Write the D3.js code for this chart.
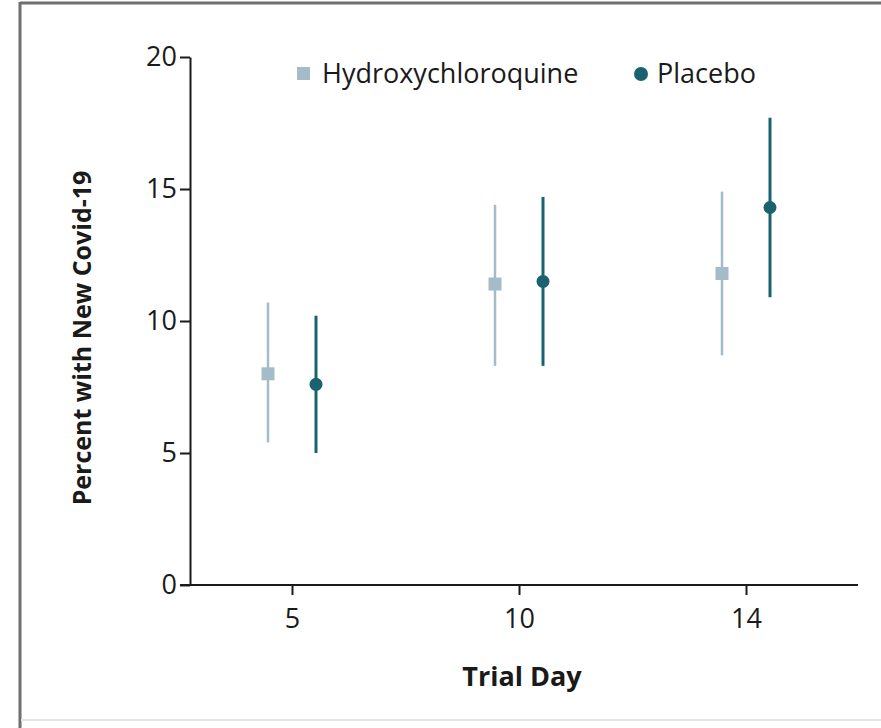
<!DOCTYPE html>
<html>
<head>
<meta charset="utf-8">
<script src="https://cdn.jsdelivr.net/npm/d3@7"></script>
<style>
  html, body { margin: 0; padding: 0; background: #fff; }
  svg { display: block; }
</style>
</head>
<body>
<script>
// Trial days shown on the x axis
const days = ["5", "10", "14"];
// Hydroxychloroquine: percent with new Covid-19 and 95% CI
const hcqEstimate = [8.0, 11.4, 11.8];
const hcqLower = [5.4, 8.3, 8.7];
const hcqUpper = [10.7, 14.4, 14.9];
// Placebo: percent with new Covid-19 and 95% CI
const placeboEstimate = [7.6, 11.5, 14.3];
const placeboLower = [5.0, 8.3, 10.9];
const placeboUpper = [10.2, 14.7, 17.7];
const yTicks = [0, 5, 10, 15, 20];

const W = 881, H = 728;
const svg = d3.select("body").append("svg").attr("width", W).attr("height", H);

// Outer frame
svg.append("rect").attr("x", 0).attr("y", 0).attr("width", W).attr("height", H).attr("fill", "#fff");
svg.append("line").attr("x1", 20).attr("x2", W).attr("y1", 3).attr("y2", 3)
  .attr("stroke", "#6f6f6f").attr("stroke-width", 3);
svg.append("line").attr("x1", 20).attr("x2", 20).attr("y1", 2).attr("y2", H)
  .attr("stroke", "#6f6f6f").attr("stroke-width", 3);
svg.append("line").attr("x1", 21).attr("x2", W).attr("y1", 720).attr("y2", 720)
  .attr("stroke", "#e6e6e6").attr("stroke-width", 2);

const font = "'Open Sans', 'Noto Sans', sans-serif";
const plotLeft = 190, plotRight = 858, plotTop = 57, plotBottom = 585;

const x = d3.scalePoint().domain(days).range([292, 746]);
const y = d3.scaleLinear().domain([0, 20]).range([plotBottom, plotTop]);

// Y axis
const yAxis = svg.append("g").attr("transform", `translate(${plotLeft},0)`)
  .call(d3.axisLeft(y).tickValues(yTicks).tickSize(10).tickSizeOuter(0).tickPadding(3));
yAxis.select(".domain").attr("stroke", "#1a1a1a").attr("stroke-width", 2);
yAxis.selectAll(".tick line").attr("stroke", "#1a1a1a").attr("stroke-width", 2);
yAxis.selectAll(".tick text").attr("font-family", font).attr("font-size", 27).attr("fill", "#1a1a1a");

// X axis
const xAxis = svg.append("g").attr("transform", `translate(0,${plotBottom})`)
  .call(d3.axisBottom(x).tickSize(10).tickSizeOuter(0).tickPadding(14));
xAxis.select(".domain").remove();
xAxis.selectAll(".tick line").attr("stroke", "#1a1a1a").attr("stroke-width", 2);
xAxis.selectAll(".tick text").attr("font-family", font).attr("font-size", 27).attr("fill", "#1a1a1a");
xAxis.append("line").attr("x1", plotLeft - 10).attr("x2", plotRight).attr("y1", 0).attr("y2", 0)
  .attr("stroke", "#1a1a1a").attr("stroke-width", 2);

// Axis titles
svg.append("text").attr("x", 522).attr("y", 686).attr("text-anchor", "middle")
  .attr("font-family", font).attr("font-weight", 700).attr("font-size", 27).attr("fill", "#1a1a1a")
  .text("Trial Day");
svg.append("text").attr("transform", "translate(91,338) rotate(-90)").attr("text-anchor", "middle")
  .attr("font-family", font).attr("font-weight", 700).attr("font-size", 25).attr("fill", "#1a1a1a")
  .text("Percent with New Covid-19");

const hcqColor = "#a3bcc7";
const placeboColor = "#1b6271";

// Hydroxychloroquine series
const hcq = svg.append("g");
days.forEach((d, i) => {
  const cx = x(d) - 24;
  hcq.append("line").attr("x1", cx).attr("x2", cx)
    .attr("y1", y(hcqLower[i])).attr("y2", y(hcqUpper[i]))
    .attr("stroke", hcqColor).attr("stroke-width", 2.5);
  hcq.append("rect").attr("x", cx - 6.5).attr("y", y(hcqEstimate[i]) - 6.5)
    .attr("width", 13).attr("height", 13).attr("fill", hcqColor);
});

// Placebo series
const pl = svg.append("g");
days.forEach((d, i) => {
  const cx = x(d) + 24;
  pl.append("line").attr("x1", cx).attr("x2", cx)
    .attr("y1", y(placeboLower[i])).attr("y2", y(placeboUpper[i]))
    .attr("stroke", placeboColor).attr("stroke-width", 3);
  pl.append("circle").attr("cx", cx).attr("cy", y(placeboEstimate[i])).attr("r", 6.5)
    .attr("fill", placeboColor);
});

// Legend
const lg = svg.append("g");
lg.append("rect").attr("x", 297).attr("y", 67).attr("width", 13).attr("height", 13).attr("fill", hcqColor);
lg.append("text").attr("x", 322).attr("y", 83).attr("font-family", font).attr("font-size", 27)
  .attr("fill", "#1a1a1a").text("Hydroxychloroquine");
lg.append("circle").attr("cx", 641).attr("cy", 74).attr("r", 7).attr("fill", placeboColor);
lg.append("text").attr("x", 657).attr("y", 83).attr("font-family", font).attr("font-size", 27)
  .attr("fill", "#1a1a1a").text("Placebo");
</script>
</body>
</html>
